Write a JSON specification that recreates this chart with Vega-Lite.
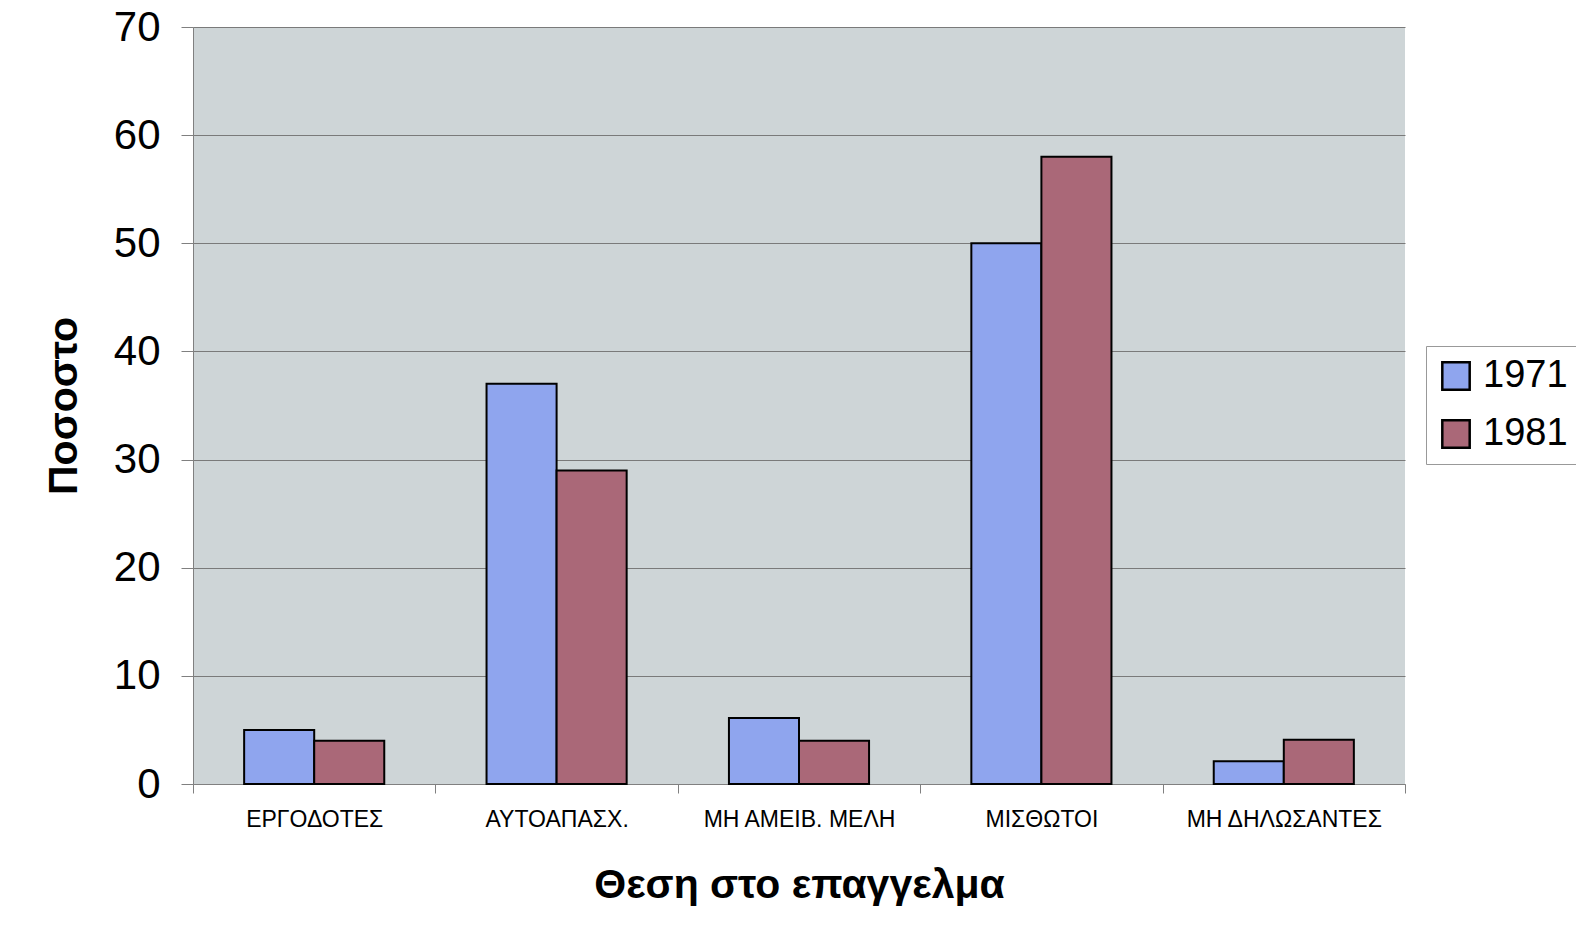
{
  "$schema": "https://vega.github.io/schema/vega-lite/v6.json",
  "width": 1212,
  "height": 757,
  "autosize": {"type": "none"},
  "padding": {"left": 193, "top": 27, "right": 171, "bottom": 156},
  "background": "white",
  "config": {
    "view": {"fill": "#ced5d7", "stroke": null},
    "font": "Liberation Sans"
  },
  "data": {
    "values": [
      {"cat": "ΕΡΓΟΔΟΤΕΣ", "year": "1971", "value": 5},
      {"cat": "ΕΡΓΟΔΟΤΕΣ", "year": "1981", "value": 4},
      {"cat": "ΑΥΤΟΑΠΑΣΧ.", "year": "1971", "value": 37},
      {"cat": "ΑΥΤΟΑΠΑΣΧ.", "year": "1981", "value": 29},
      {"cat": "ΜΗ ΑΜΕΙΒ. ΜΕΛΗ", "year": "1971", "value": 6.1},
      {"cat": "ΜΗ ΑΜΕΙΒ. ΜΕΛΗ", "year": "1981", "value": 4},
      {"cat": "ΜΙΣΘΩΤΟΙ", "year": "1971", "value": 50},
      {"cat": "ΜΙΣΘΩΤΟΙ", "year": "1981", "value": 58},
      {"cat": "ΜΗ ΔΗΛΩΣΑΝΤΕΣ", "year": "1971", "value": 2.1},
      {"cat": "ΜΗ ΔΗΛΩΣΑΝΤΕΣ", "year": "1981", "value": 4.1}
    ]
  },
  "mark": {"type": "bar", "stroke": "black", "strokeWidth": 2},
  "encoding": {
    "x": {
      "field": "cat",
      "type": "nominal",
      "sort": ["ΕΡΓΟΔΟΤΕΣ", "ΑΥΤΟΑΠΑΣΧ.", "ΜΗ ΑΜΕΙΒ. ΜΕΛΗ", "ΜΙΣΘΩΤΟΙ", "ΜΗ ΔΗΛΩΣΑΝΤΕΣ"],
      "scale": {"paddingInner": 0, "paddingOuter": 0},
      "axis": {
        "title": "Θεση στο επαγγελμα",
        "titleFontSize": 41,
        "titleFontWeight": "bold",
        "titleColor": "black",
        "titlePadding": 34,
        "labelAngle": 0,
        "labelFontSize": 23,
        "labelColor": "black",
        "labelPadding": 15,
        "labelLimit": 0,
        "tickBand": "extent",
        "tickSize": 9,
        "tickColor": "#808080",
        "domainColor": "#808080",
        "domainWidth": 1
      }
    },
    "xOffset": {
      "field": "year",
      "type": "nominal",
      "sort": ["1971", "1981"],
      "scale": {"paddingInner": 0, "paddingOuter": 0.73}
    },
    "y": {
      "field": "value",
      "type": "quantitative",
      "scale": {"domain": [0, 70], "nice": false},
      "axis": {
        "values": [0, 10, 20, 30, 40, 50, 60, 70],
        "title": "Ποσοστο",
        "titleFontSize": 41,
        "titleFontWeight": "bold",
        "titleColor": "black",
        "titlePadding": 28,
        "labelFontSize": 42,
        "labelColor": "black",
        "labelPadding": 21,
        "tickSize": 12,
        "tickColor": "#808080",
        "domainColor": "#808080",
        "grid": true,
        "gridColor": "#7a7a7a",
        "gridWidth": 1,
        "gridOpacity": 1
      }
    },
    "color": {
      "field": "year",
      "type": "nominal",
      "scale": {"domain": ["1971", "1981"], "range": ["#8fa5ee", "#aa6878"]},
      "legend": {
        "title": null,
        "orient": "none",
        "legendX": 1233,
        "legendY": 319,
        "labelFontSize": 38,
        "labelColor": "black",
        "labelOffset": 8,
        "symbolType": "square",
        "symbolSize": 750,
        "symbolStrokeColor": "black",
        "symbolStrokeWidth": 2.5,
        "fillColor": "white",
        "strokeColor": "#999999",
        "padding": 11,
        "rowPadding": 20
      }
    }
  }
}
